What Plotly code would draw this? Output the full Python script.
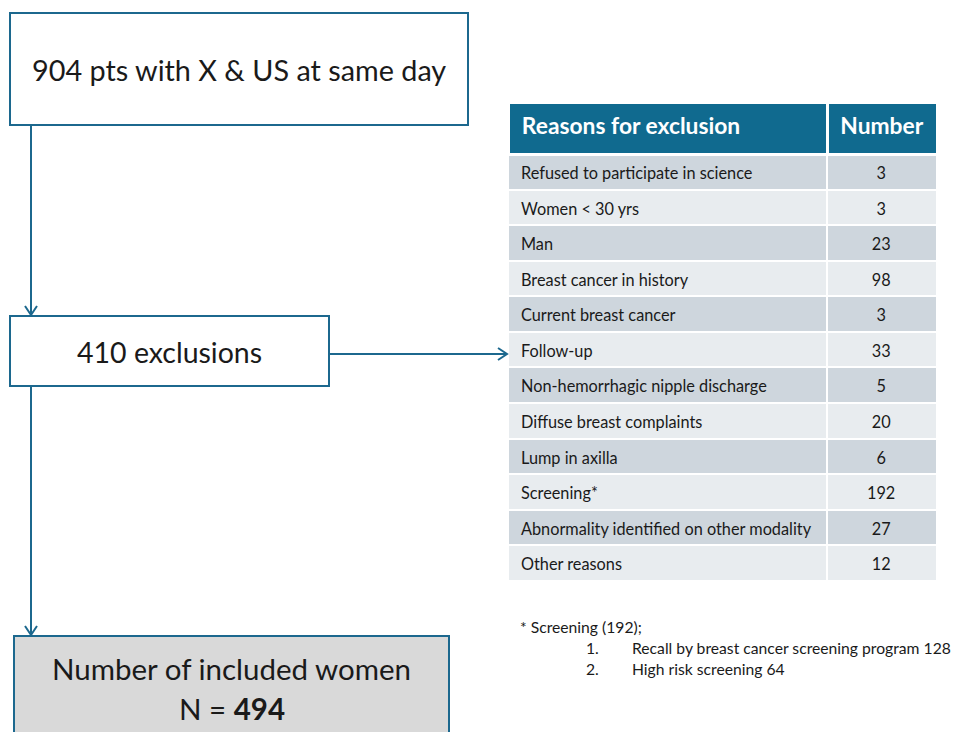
import plotly.graph_objects as go

# ---- data ----
reasons = ["Refused to participate in science", "Women < 30 yrs", "Man",
           "Breast cancer in history", "Current breast cancer", "Follow-up",
           "Non-hemorrhagic nipple discharge", "Diffuse breast complaints",
           "Lump in axilla", "Screening*", "Abnormality identified on other modality",
           "Other reasons"]
numbers = [3, 3, 23, 98, 3, 33, 5, 20, 6, 192, 27, 12]
header = ["\u00a0<b>Reasons for exclusion</b>", "<b>Number</b>"]
box_texts = [["904 pts with X & US at same day"], ["410 exclusions"],
             ["Number of included women", "N = <b>494</b>"]]
footnote_title = "* Screening (192);"
footnote_items = ["Recall by breast cancer screening program 128", "High risk screening 64"]

# page has an 8px body margin; figure is sized/ranged so data coords == page pixels
OFF = 8
W, H = 965 - OFF, 732 - OFF
LINE = "rgb(28,104,142)"
HEAD = "rgb(16,106,143)"
DARK = "rgb(206,214,221)"
LIGHT = "rgb(232,236,239)"
FONT = "Lato"
TXT = "#1a1a1a"
NONE = "rgba(0,0,0,0)"

def fx(px):
    return (px - OFF) / W

def fy(py):
    return 1 - (py - OFF) / H

def span(v):
    # uniform markup so every cell is laid out the same way
    return "<span>" + str(v).replace("<", "&lt;") + "</span>"

fig = go.Figure()

ROWH, HEADH = 35.58, 51.5
TOP, LEFT, RIGHT, COL1 = 102.5, 508, 937, 319
bottom = TOP + HEADH + ROWH * len(reasons) + 2
row_fills = [DARK if i % 2 == 0 else LIGHT for i in range(len(reasons))]
# base table: fills + header text
fig.add_trace(go.Table(
    domain=dict(x=[fx(LEFT), fx(RIGHT)], y=[fy(bottom), fy(TOP)]),
    columnwidth=[COL1, RIGHT - LEFT - COL1],
    header=dict(values=header, fill_color=HEAD, line=dict(color="white", width=3),
                align=["left", "center"], height=HEADH,
                font=dict(family=FONT, size=22.8, color="white")),
    cells=dict(values=[[""] * len(reasons), [""] * len(reasons)],
               fill_color=[row_fills, row_fills],
               line=dict(color="white", width=2), height=ROWH),
))
# overlay table: cell texts (nudged to match padding of reference)
DX, DY = 5, 1
fig.add_trace(go.Table(
    domain=dict(x=[fx(LEFT + DX), fx(RIGHT)], y=[fy(bottom + DY), fy(TOP + DY)]),
    columnwidth=[COL1 - DX, RIGHT - LEFT - COL1],
    header=dict(values=["", ""], fill_color=NONE, line=dict(color=NONE, width=0),
                height=HEADH),
    cells=dict(values=[[span(r) for r in reasons], [span(n) for n in numbers]],
               fill_color=NONE, line=dict(color=NONE, width=0), align=["left", "center"],
               height=ROWH, font=dict(family=FONT, size=16.3, color=TXT)),
))

# flowchart boxes
boxes = [(10, 13, 468, 125, "white"), (10, 316, 329, 386, "white"),
         (14, 636, 449, 745, "rgb(217,217,217)")]
text_y = [[70], [352], [668, 708]]
sizes = [28.8, 28.5, 29.5]
for (x0, y0, x1, y1, fc), lines, ys, fs in zip(boxes, box_texts, text_y, sizes):
    fig.add_shape(type="rect", x0=x0, y0=y0, x1=x1, y1=y1, xref="x", yref="y",
                  line=dict(color=LINE, width=2), fillcolor=fc, layer="below")
    for t, yy in zip(lines, ys):
        fig.add_annotation(x=(x0 + x1) / 2, y=yy, text=t, showarrow=False,
                           font=dict(family=FONT, size=fs, color=TXT), xref="x", yref="y")

def arrow(x0, y0, x1, y1):
    fig.add_shape(type="line", x0=x0, y0=y0, x1=x1, y1=y1, line=dict(color=LINE, width=2))
    if x0 == x1:
        p = f"M {x1-6} {y1-9} L {x1} {y1} L {x1+6} {y1-9}"
    else:
        p = f"M {x1-9} {y1-6} L {x1} {y1} L {x1-9} {y1+6}"
    fig.add_shape(type="path", path=p, line=dict(color=LINE, width=2))

arrow(31, 125, 31, 315)
arrow(31, 386, 31, 635)
arrow(329, 354, 507, 354)

# footnote
FS = 15.7
fig.add_annotation(x=518, y=627, text=footnote_title, showarrow=False, xanchor="left",
                   font=dict(family=FONT, size=FS, color=TXT))
for i, t in enumerate(footnote_items):
    yy = 648 + 21 * i
    fig.add_annotation(x=584, y=yy, text=f"{i+1}.", showarrow=False, xanchor="left",
                       font=dict(family=FONT, size=FS, color=TXT))
    fig.add_annotation(x=630, y=yy, text=t, showarrow=False, xanchor="left",
                       font=dict(family=FONT, size=FS, color=TXT))

fig.update_layout(width=W, height=H, margin=dict(l=0, r=0, t=0, b=0),
                  paper_bgcolor="white", plot_bgcolor="white", showlegend=False,
                  xaxis=dict(range=[OFF, OFF + W], visible=False, fixedrange=True),
                  yaxis=dict(range=[OFF + H, OFF], visible=False, fixedrange=True))
fig.write_html("out.html", config={"displayModeBar": False})
